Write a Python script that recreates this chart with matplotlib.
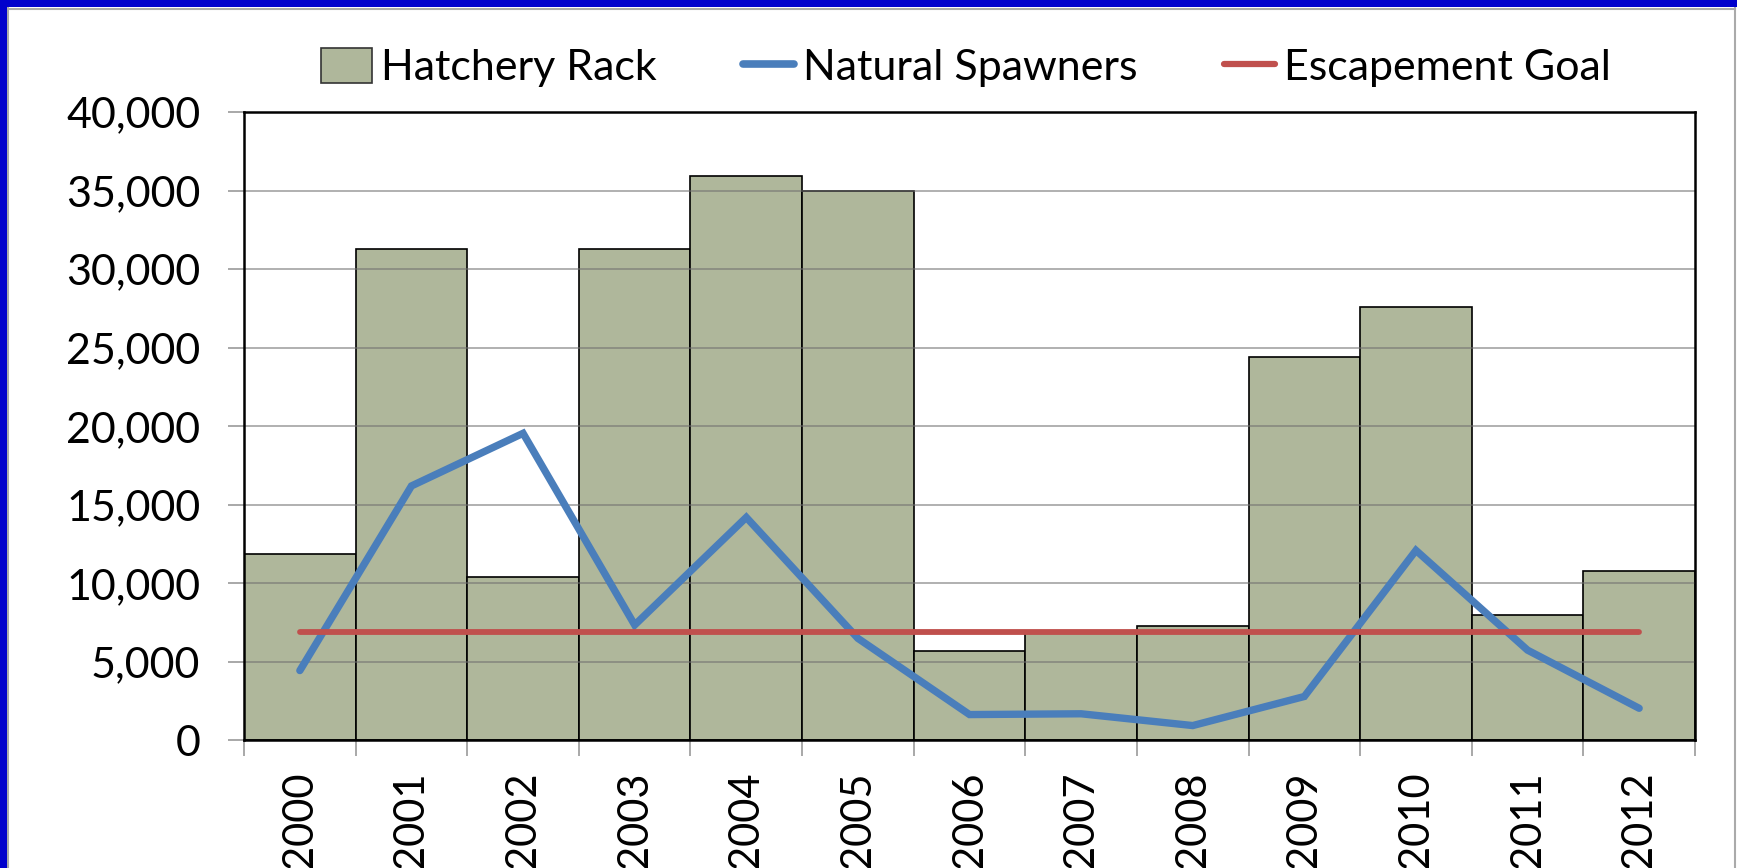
import matplotlib
matplotlib.use('Agg')
import matplotlib.pyplot as plt
from matplotlib.patches import Rectangle
from matplotlib.lines import Line2D
from matplotlib.ticker import FuncFormatter, FixedLocator

plt.rcParams['font.family'] = ['Lato', 'DejaVu Sans']

years = ['2000', '2001', '2002', '2003', '2004', '2005', '2006',
         '2007', '2008', '2009', '2010', '2011', '2012']
hatchery_rack = [11900, 31300, 10400, 31250, 35900, 35000, 5700,
                 6850, 7300, 24400, 27600, 8000, 10800]
natural_spawners = [4450, 16200, 19550, 7350, 14200, 6500, 1650,
                    1700, 950, 2800, 12100, 5750, 2050]
escapement_goal = [6900] * len(years)

bar_color = '#AFB79B'
blue = '#4A7EBB'
red = '#C0504D'

fig = plt.figure(figsize=(17.37, 8.68), dpi=100)
ax = fig.add_axes([0.1405, 0.1469, 0.8353, 0.7241])

x = list(range(len(years)))
ax.bar(x, hatchery_rack, width=1.0, color=bar_color, edgecolor='black',
       linewidth=1.2, zorder=1, label='Hatchery Rack')
ax.plot(x, natural_spawners, color=blue, lw=5.3, solid_capstyle='round',
        solid_joinstyle='miter', zorder=4, label='Natural Spawners')
ax.plot(x, escapement_goal, color=red, lw=4.2, solid_capstyle='round',
        zorder=4, label='Escapement Goal')

# gridlines sit over the bars
for v in range(5000, 40000, 5000):
    ax.axhline(v, color='#707070', lw=1.4, alpha=0.55, zorder=3)

ax.set_xlim(-0.5, len(years) - 0.5)
ax.set_ylim(0, 40000)
ax.set_yticks(range(0, 40001, 5000))
ax.yaxis.set_major_formatter(FuncFormatter(lambda v, p: f'{int(v):,}'))
ax.tick_params(axis='y', direction='out', length=11.5, width=1.2,
               color='#999999', labelsize=31, pad=20)

ax.set_xticks(x)
ax.set_xticklabels(years, rotation=90, fontsize=30)
ax.tick_params(axis='x', which='major', length=0, pad=22)
ax.xaxis.set_minor_locator(FixedLocator([i - 0.5 for i in range(len(years) + 1)]))
ax.tick_params(axis='x', which='minor', direction='out', length=11.5,
               width=1.2, color='#999999')

for s in ax.spines.values():
    s.set_color('black')
    s.set_linewidth(1.8)
    s.set_zorder(5)

handles = [Rectangle((0, 0), 1, 1, facecolor=bar_color, edgecolor='#333333', lw=1.2),
           Line2D([0], [0], color=blue, lw=5.5, solid_capstyle='round'),
           Line2D([0], [0], color=red, lw=4.5, solid_capstyle='round')]
fig.legend(handles, ['Hatchery Rack', 'Natural Spawners', 'Escapement Goal'],
           loc='center', bbox_to_anchor=(0.556, 0.922), ncol=3, frameon=False,
           fontsize=31, handlelength=1.2, handletextpad=0.2,
           columnspacing=2.0, handleheight=0.85)

# outer frame: blue band on left and top, thin gray inner line
fig.patches.append(Rectangle((0, 0), 7 / 1737, 1, transform=fig.transFigure,
                             facecolor='#0000CC', edgecolor='none', zorder=10))
fig.patches.append(Rectangle((0, 1 - 7 / 868), 1, 7 / 868, transform=fig.transFigure,
                             facecolor='#0000CC', edgecolor='none', zorder=10))
fig.add_artist(Line2D([8 / 1737, 8 / 1737], [0, 1 - 8 / 868], transform=fig.transFigure,
                      color='#AAAAAA', lw=1.5))
fig.add_artist(Line2D([8 / 1737, 1735 / 1737], [1 - 8.5 / 868, 1 - 8.5 / 868],
                      transform=fig.transFigure, color='#AAAAAA', lw=1.5))
fig.add_artist(Line2D([1735 / 1737, 1735 / 1737], [0, 1 - 8 / 868],
                      transform=fig.transFigure, color='#AAAAAA', lw=1.5))

fig.savefig('out.png', dpi=100)
